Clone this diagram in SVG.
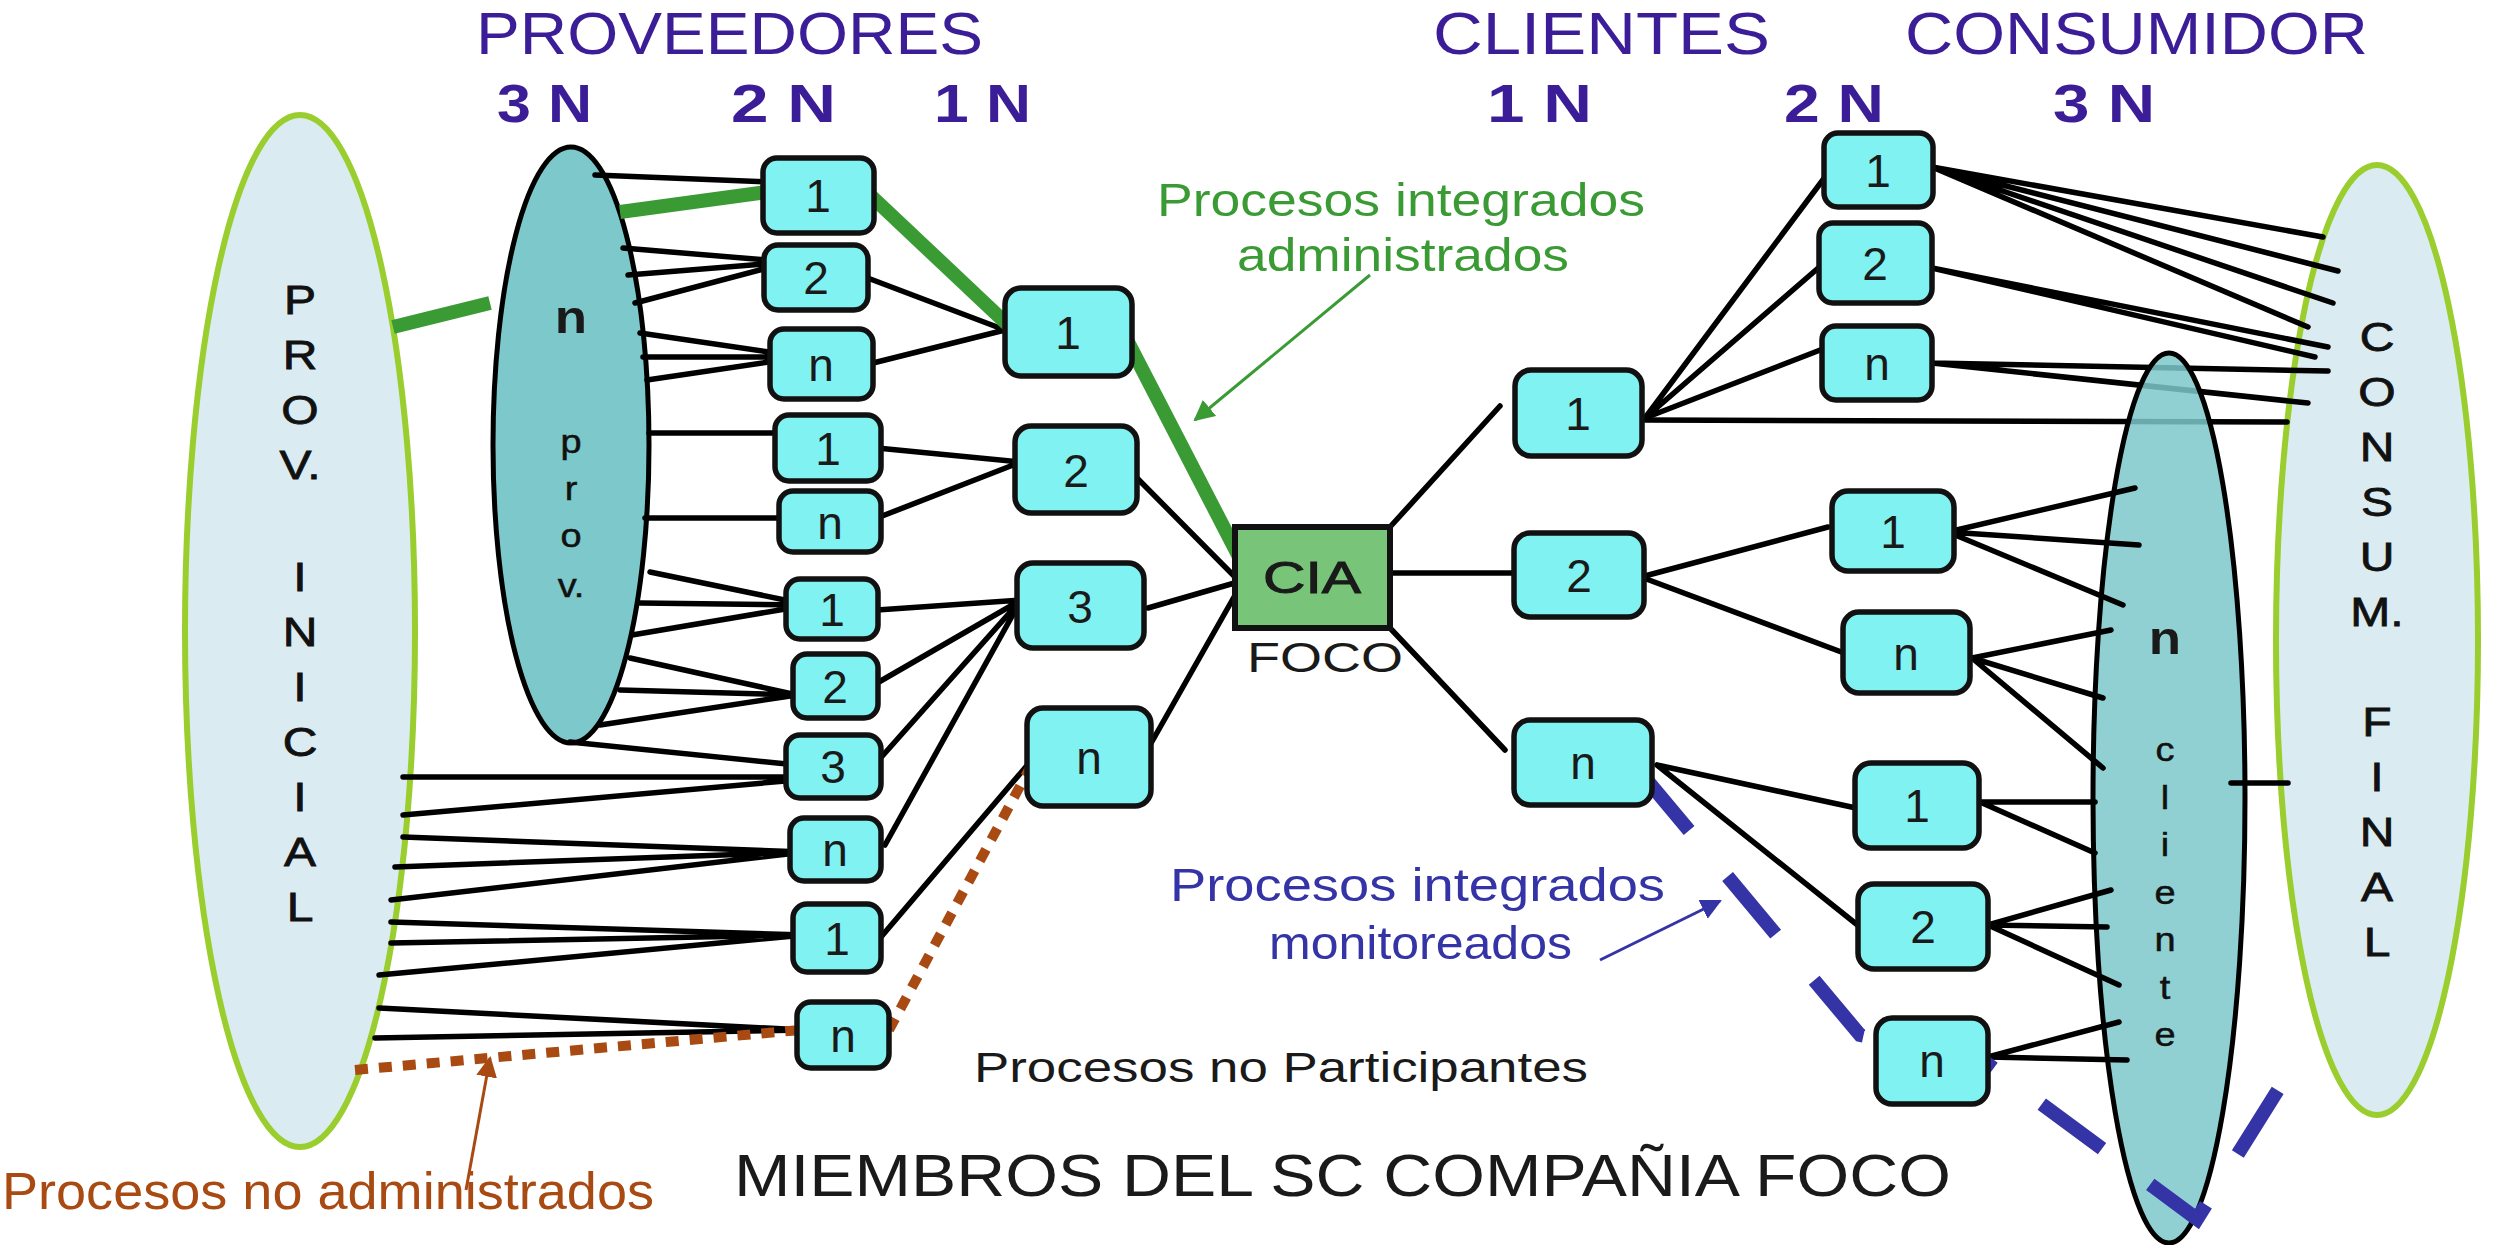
<svg xmlns="http://www.w3.org/2000/svg" width="2503" height="1245" viewBox="0 0 2503 1245">
<defs>
<style>
.bg{fill:#ffffff}
.big{fill:#DAECF1;stroke:#9ACD2E;stroke-width:6}
.teal{fill:#7CC8CA;stroke:#000;stroke-width:5}
.tealT{fill:#7CC8CA;fill-opacity:0.85;stroke:#000;stroke-width:5}
.box{fill:#80F2F2;stroke:#111;stroke-width:5.5}
.cia{fill:#78C478;stroke:#111;stroke-width:6}
.t{font-family:"Liberation Sans",Arial,sans-serif;fill:#1a1a1a}
.lbl{font-family:"Liberation Sans",Arial,sans-serif;font-size:46px;text-anchor:middle;fill:#1a1a1a}
.vl{font-family:"Liberation Sans",Arial,sans-serif;font-size:40px;text-anchor:middle;fill:#111;stroke:#111;stroke-width:0.8}
.vs{font-family:"Liberation Sans",Arial,sans-serif;font-size:33px;text-anchor:middle;fill:#111;stroke:#111;stroke-width:0.5}
.ttl{font-family:"Liberation Sans",Arial,sans-serif;font-size:60px;fill:#3B1D97}
.nn{font-family:"Liberation Sans",Arial,sans-serif;font-size:54px;font-weight:bold;fill:#3B1D97}
.ln{stroke:#000;stroke-width:5.5;fill:none;stroke-linecap:round}
.gr{stroke:#3A9B35;stroke-width:14;fill:none}
.brd{stroke:#A84A12;stroke-width:10;fill:none;stroke-dasharray:13 11}
.bld{stroke:#3434A6;stroke-width:14;fill:none;stroke-dasharray:75 60}
</style>
<marker id="ahG" viewBox="0 0 10 10" refX="9" refY="5" markerWidth="7" markerHeight="7" orient="auto" markerUnits="strokeWidth"><path d="M0,0 L10,5 L0,10 z" fill="#3A9B35"/></marker>
<marker id="ahB" viewBox="0 0 10 10" refX="9" refY="5" markerWidth="7" markerHeight="7" orient="auto" markerUnits="strokeWidth"><path d="M0,0 L10,5 L0,10 z" fill="#3434A6"/></marker>
<marker id="ahR" viewBox="0 0 10 10" refX="9" refY="5" markerWidth="7" markerHeight="7" orient="auto" markerUnits="strokeWidth"><path d="M0,0 L10,5 L0,10 z" fill="#A84A12"/></marker>
</defs>
<rect class="bg" x="0" y="0" width="2503" height="1245"/>

<g id="titles">
<text class="ttl" x="476" y="54" textLength="507" lengthAdjust="spacingAndGlyphs">PROVEEDORES</text>
<text class="ttl" x="1433" y="54" textLength="337" lengthAdjust="spacingAndGlyphs">CLIENTES</text>
<text class="ttl" x="1905" y="54" textLength="463" lengthAdjust="spacingAndGlyphs">CONSUMIDOR</text>
<text class="nn" x="497" y="122" textLength="95" lengthAdjust="spacingAndGlyphs">3 N</text>
<text class="nn" x="731" y="122" textLength="105" lengthAdjust="spacingAndGlyphs">2 N</text>
<text class="nn" x="934" y="122" textLength="97" lengthAdjust="spacingAndGlyphs">1 N</text>
<text class="nn" x="1487" y="122" textLength="105" lengthAdjust="spacingAndGlyphs">1 N</text>
<text class="nn" x="1784" y="122" textLength="100" lengthAdjust="spacingAndGlyphs">2 N</text>
<text class="nn" x="2053" y="122" textLength="102" lengthAdjust="spacingAndGlyphs">3 N</text>
</g>

<g id="prov-inicial">
<ellipse class="big" cx="300" cy="631" rx="115" ry="516"/>
<g transform="translate(300 0) scale(1.2 1)">
<text class="vl" x="0" y="314">P</text>
<text class="vl" x="0" y="369">R</text>
<text class="vl" x="0" y="424">O</text>
<text class="vl" x="0" y="479">V.</text>
<text class="vl" x="0" y="591">I</text>
<text class="vl" x="0" y="646">N</text>
<text class="vl" x="0" y="701">I</text>
<text class="vl" x="0" y="756">C</text>
<text class="vl" x="0" y="811">I</text>
<text class="vl" x="0" y="866">A</text>
<text class="vl" x="0" y="921">L</text>
</g>
</g>

<g id="consum-final">
<ellipse class="big" cx="2377" cy="640" rx="101" ry="475"/>
<g transform="translate(2377 0) scale(1.2 1)">
<text class="vl" x="0" y="351">C</text>
<text class="vl" x="0" y="406">O</text>
<text class="vl" x="0" y="461">N</text>
<text class="vl" x="0" y="516">S</text>
<text class="vl" x="0" y="571">U</text>
<text class="vl" x="0" y="626">M.</text>
<text class="vl" x="0" y="736">F</text>
<text class="vl" x="0" y="791">I</text>
<text class="vl" x="0" y="846">N</text>
<text class="vl" x="0" y="901">A</text>
<text class="vl" x="0" y="956">L</text>
</g>
</g>

<g id="n-prov">
<ellipse class="teal" cx="571" cy="445" rx="78" ry="298"/>
<g transform="translate(571 0) scale(1.15 1)">
<text class="t" x="0" y="333" font-size="46" font-weight="bold" text-anchor="middle">n</text>
<text class="vs" x="0" y="453">p</text>
<text class="vs" x="0" y="500">r</text>
<text class="vs" x="0" y="547">o</text>
<text class="vs" x="0" y="597">v.</text>
</g>
</g>

<g id="connectors-back">
<path class="ln" d="M1645,420 L2287,422"/>
<path class="ln" d="M1932,363 L2328,371 M1932,363 L2308,403"/>
</g>

<g id="n-cliente">
<ellipse class="tealT" cx="2169" cy="798" rx="76" ry="445"/>
<g transform="translate(2165 0) scale(1.15 1)">
<text class="t" x="0" y="654" font-size="46" font-weight="bold" text-anchor="middle">n</text>
<text class="vs" x="0" y="761">c</text>
<text class="vs" x="0" y="809">l</text>
<text class="vs" x="0" y="856">i</text>
<text class="vs" x="0" y="904">e</text>
<text class="vs" x="0" y="951">n</text>
<text class="vs" x="0" y="999">t</text>
<text class="vs" x="0" y="1046">e</text>
</g>
</g>

<g id="connectors">
<path class="ln" d="M595,175 L772,182"/>
<path class="ln" d="M623,248 L790,262 M628,275 L790,262 M635,303 L790,262"/>
<path class="ln" d="M640,333 L803,357 M643,357 L803,357 M647,380 L803,357"/>
<path class="ln" d="M649,433 L785,433"/>
<path class="ln" d="M645,518 L789,518"/>
<path class="ln" d="M650,572 L809,605 M640,603 L809,605 M632,635 L809,605"/>
<path class="ln" d="M630,658 L797,695 M620,690 L797,695 M600,725 L797,695"/>
<path class="ln" d="M570,742 L797,765"/>
<path class="ln" d="M403,777 L797,777 M403,815 L797,780"/>
<path class="ln" d="M403,837 L805,852 M395,867 L805,852 M391,900 L805,852"/>
<path class="ln" d="M391,922 L805,935 M391,943 L805,935 M379,975 L805,935"/>
<path class="ln" d="M379,1008 L805,1030 M375,1038 L805,1030"/>
<path class="ln" d="M865,277 L1005,330 M873,363 L1005,330"/>
<path class="ln" d="M877,448 L1021,462 M877,518 L1021,462"/>
<path class="ln" d="M877,610 L1021,600 M865,690 L1021,600 M877,762 L1021,600 M885,845 L1021,600"/>
<path class="ln" d="M881,937 L1030,762"/>
<path class="ln" d="M1136,477 L1238,580 M1148,608 L1238,582 M1150,745 L1238,590"/>
<path class="gr" d="M393,327 L490,303"/>
<path class="gr" d="M620,212 L767,192"/>
<path class="gr" d="M869,194 L1009,326"/>
<path class="gr" d="M1128,342 L1250,578"/>
<path class="brd" d="M355,1070 L800,1030"/>
<path class="brd" d="M889,1030 L1033,762"/>
<path class="ln" d="M1390,527 L1500,406 M1390,573 L1514,573 M1390,628 L1505,750"/>
<path class="ln" d="M1645,418 L1828,173 M1645,418 L1824,263 M1645,418 L1828,347"/>
<path class="ln" d="M1932,167 L2323,237 M1932,167 L2338,271 M1932,167 L2333,303 M1932,167 L2308,327"/>
<path class="ln" d="M1932,268 L2328,347 M1932,268 L2315,357"/>
<path class="ln" d="M1641,577 L1828,527 M1641,577 L1844,653"/>
<path class="ln" d="M1948,532 L2135,488 M1948,532 L2139,545 M1948,532 L2123,605"/>
<path class="ln" d="M1972,658 L2111,630 M1972,658 L2103,698 M1972,658 L2103,768"/>
<path class="ln" d="M1657,765 L1856,808 M1657,765 L1860,927"/>
<path class="ln" d="M1980,802 L2095,802 M1980,802 L2095,853"/>
<path class="ln" d="M2231,783 L2288,783"/>
<path class="ln" d="M1988,925 L2111,890 M1988,925 L2107,927 M1988,925 L2119,985"/>
<path class="ln" d="M1988,1057 L2119,1022 M1988,1057 L2127,1060"/>
<path class="bld" d="M1641,773 L1860,1035 L1985,1062 L2197,1219 L2298,1058"/>
<path d="M1370,275 L1195,420" stroke="#3A9B35" stroke-width="3" fill="none" marker-end="url(#ahG)"/>
<path d="M1600,960 L1720,901" stroke="#3434A6" stroke-width="3" fill="none" marker-end="url(#ahB)"/>
<path d="M466,1190 L490,1058" stroke="#A84A12" stroke-width="3" fill="none" marker-end="url(#ahR)"/>
</g>

<g id="l2-1"><rect class="box" x="763" y="158" width="111" height="75" rx="14"/><text class="lbl" x="818" y="212">1</text></g>
<g id="l2-2"><rect class="box" x="764" y="245" width="104" height="65" rx="14"/><text class="lbl" x="816" y="294">2</text></g>
<g id="l2-3"><rect class="box" x="770" y="329" width="103" height="70" rx="14"/><text class="lbl" x="821" y="381">n</text></g>
<g id="l2-4"><rect class="box" x="775" y="415" width="106" height="66" rx="14"/><text class="lbl" x="828" y="465">1</text></g>
<g id="l2-5"><rect class="box" x="779" y="491" width="102" height="61" rx="14"/><text class="lbl" x="830" y="539">n</text></g>
<g id="l2-6"><rect class="box" x="786" y="579" width="92" height="60" rx="14"/><text class="lbl" x="832" y="626">1</text></g>
<g id="l2-7"><rect class="box" x="793" y="654" width="85" height="64" rx="14"/><text class="lbl" x="835" y="703">2</text></g>
<g id="l2-8"><rect class="box" x="786" y="735" width="95" height="63" rx="14"/><text class="lbl" x="833" y="783">3</text></g>
<g id="l2-9"><rect class="box" x="790" y="818" width="91" height="63" rx="14"/><text class="lbl" x="835" y="866">n</text></g>
<g id="l2-10"><rect class="box" x="793" y="904" width="88" height="68" rx="14"/><text class="lbl" x="837" y="955">1</text></g>
<g id="l2-11"><rect class="box" x="797" y="1002" width="92" height="66" rx="14"/><text class="lbl" x="843" y="1052">n</text></g>

<g id="l1-1"><rect class="box" x="1005" y="288" width="127" height="88" rx="16"/><text class="lbl" x="1068" y="349">1</text></g>
<g id="l1-2"><rect class="box" x="1015" y="426" width="122" height="87" rx="16"/><text class="lbl" x="1076" y="487">2</text></g>
<g id="l1-3"><rect class="box" x="1017" y="563" width="127" height="85" rx="16"/><text class="lbl" x="1080" y="623">3</text></g>
<g id="l1-4"><rect class="box" x="1027" y="708" width="124" height="98" rx="16"/><text class="lbl" x="1089" y="774">n</text></g>

<g id="cia">
<rect class="cia" x="1235" y="527" width="155" height="101"/>
<text class="t" x="1263" y="593" font-size="44" stroke="#1a1a1a" stroke-width="1" textLength="98" lengthAdjust="spacingAndGlyphs">CIA</text>
<text class="t" x="1247" y="672" font-size="42" textLength="156" lengthAdjust="spacingAndGlyphs">FOCO</text>
</g>

<g id="r1-1"><rect class="box" x="1515" y="370" width="127" height="86" rx="16"/><text class="lbl" x="1578" y="430">1</text></g>
<g id="r1-2"><rect class="box" x="1514" y="533" width="130" height="84" rx="16"/><text class="lbl" x="1579" y="592">2</text></g>
<g id="r1-3"><rect class="box" x="1514" y="720" width="138" height="85" rx="16"/><text class="lbl" x="1583" y="779">n</text></g>

<g id="r2-1"><rect class="box" x="1824" y="133" width="109" height="74" rx="14"/><text class="lbl" x="1878" y="187">1</text></g>
<g id="r2-2"><rect class="box" x="1819" y="223" width="113" height="80" rx="14"/><text class="lbl" x="1875" y="280">2</text></g>
<g id="r2-3"><rect class="box" x="1822" y="326" width="110" height="74" rx="14"/><text class="lbl" x="1877" y="380">n</text></g>
<g id="r2-4"><rect class="box" x="1832" y="491" width="122" height="80" rx="16"/><text class="lbl" x="1893" y="548">1</text></g>
<g id="r2-5"><rect class="box" x="1843" y="612" width="127" height="81" rx="16"/><text class="lbl" x="1906" y="670">n</text></g>
<g id="r2-6"><rect class="box" x="1855" y="763" width="124" height="85" rx="16"/><text class="lbl" x="1917" y="822">1</text></g>
<g id="r2-7"><rect class="box" x="1858" y="884" width="130" height="85" rx="16"/><text class="lbl" x="1923" y="943">2</text></g>
<g id="r2-8"><rect class="box" x="1876" y="1018" width="112" height="86" rx="16"/><text class="lbl" x="1932" y="1077">n</text></g>

<g id="labels">
<text class="t" x="1157" y="216" font-size="47" style="fill:#3A9B35" textLength="488" lengthAdjust="spacingAndGlyphs">Procesos integrados</text>
<text class="t" x="1237" y="271" font-size="47" style="fill:#3A9B35" textLength="332" lengthAdjust="spacingAndGlyphs">administrados</text>
<text class="t" x="1170" y="901" font-size="47" style="fill:#3434A6" textLength="495" lengthAdjust="spacingAndGlyphs">Procesos integrados</text>
<text class="t" x="1269" y="959" font-size="47" style="fill:#3434A6" textLength="303" lengthAdjust="spacingAndGlyphs">monitoreados</text>
<text class="t" x="974" y="1082" font-size="42" textLength="614" lengthAdjust="spacingAndGlyphs">Procesos no Participantes</text>
<text class="t" x="734" y="1196" font-size="60" textLength="1217" lengthAdjust="spacingAndGlyphs">MIEMBROS DEL SC COMPAÑIA FOCO</text>
<text class="t" x="2" y="1209" font-size="52" style="fill:#A84A12" textLength="652" lengthAdjust="spacingAndGlyphs">Procesos no administrados</text>
</g>
</svg>
